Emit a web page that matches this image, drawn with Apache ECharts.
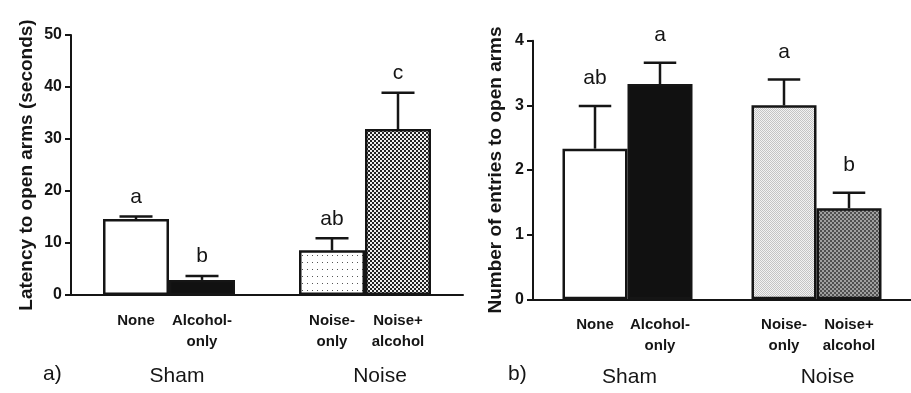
<!DOCTYPE html>
<html>
<head>
<meta charset="utf-8">
<script src="https://cdn.jsdelivr.net/npm/echarts@6/dist/echarts.min.js"></script>
<style>
html,body{margin:0;padding:0;background:#fff;}
#chart{width:911px;height:393px;}
</style>
</head>
<body>
<div id="chart"></div>
<script>
// ---- data ----
const groupNames = ['Sham', 'Noise'];
const barNames = ['None', 'Alcohol-\nonly', 'Noise-\nonly', 'Noise+\nalcohol'];
const latencyMeans = [14.6, 2.9, 8.6, 31.9];
const latencyErr = [0.5, 0.75, 2.3, 7.0];
const latencyLetters = ['a', 'b', 'ab', 'c'];
const latencyTicks = { min: 0, max: 50, interval: 10 };
const entriesMeans = [2.33, 3.33, 3.0, 1.41];
const entriesErr = [0.66, 0.33, 0.4, 0.24];
const entriesLetters = ['ab', 'a', 'a', 'b'];
const entriesTicks = { min: 0, max: 4, interval: 1 };

// ---- patterns ----
function makePattern(w, h, draw) {
  const c = document.createElement('canvas');
  c.width = w; c.height = h;
  const ctx = c.getContext('2d');
  draw(ctx);
  return { image: c, repeat: 'repeat' };
}
const patDots = makePattern(5, 7, ctx => {
  ctx.fillStyle = '#fff'; ctx.fillRect(0, 0, 5, 7);
  ctx.fillStyle = '#555'; ctx.fillRect(2, 3, 1, 1);
});
const patDarkChecker = makePattern(4, 4, ctx => {
  ctx.fillStyle = '#222'; ctx.fillRect(0, 0, 4, 4);
  ctx.fillStyle = '#eee'; ctx.fillRect(0, 0, 2, 2); ctx.fillRect(2, 2, 2, 2);
});
const patLightGray = makePattern(2, 2, ctx => {
  ctx.fillStyle = '#f2f2f2'; ctx.fillRect(0, 0, 2, 2);
  ctx.fillStyle = '#c4c4c4'; ctx.fillRect(0, 0, 1, 1); ctx.fillRect(1, 1, 1, 1);
});
const patMidGray = makePattern(4, 4, ctx => {
  ctx.fillStyle = '#505050'; ctx.fillRect(0, 0, 4, 4);
  ctx.fillStyle = '#a0a0a0'; ctx.fillRect(0, 0, 2, 2); ctx.fillRect(2, 2, 2, 2);
});

const fillsA = ['#ffffff', '#111111', patDots, patDarkChecker];
const fillsB = ['#ffffff', '#111111', patLightGray, patMidGray];

const FONT = 'Liberation Sans, Arial, sans-serif';
const INK = '#151515';
const BAR_W_A = 66, BAR_W_B = 65;

function barSeries(panel, means, fills, sub, barW) {
  const data = groupNames.map((g, gi) => {
    const i = gi * 2 + sub;
    return { value: means[i], itemStyle: { color: fills[i] }, name: barNames[i] };
  });
  return {
    type: 'bar', xAxisIndex: panel, yAxisIndex: panel,
    barWidth: barW, barGap: '0%',
    data: data,
    itemStyle: { borderColor: INK, borderWidth: 2.5 },
    label: {
      show: true, position: 'bottom', distance: 15,
      formatter: p => barNames[p.dataIndex * 2 + sub],
      fontFamily: FONT, fontWeight: 'bold', fontSize: 15, color: INK,
      lineHeight: 21, align: 'center'
    },
    emphasis: { disabled: true },
    silent: true, z: 2
  };
}

function errSeries(panel, means, errs, letters, barW, gap) {
  const data = means.map((m, i) => [Math.floor(i / 2), m, errs[i], (i % 2) ? 1 : -1, i]);
  return {
    type: 'custom', xAxisIndex: panel, yAxisIndex: panel,
    data: data, clip: false, silent: true, z: 5,
    renderItem: (params, api) => {
      const gi = api.value(0), m = api.value(1), e = api.value(2), side = api.value(3);
      const idx = api.value(4);
      const base = api.coord([gi, m]);
      const top = api.coord([gi, m + e]);
      const x = base[0] + side * barW / 2;
      const capHalf = barW / 4;
      return {
        type: 'group',
        children: [
          { type: 'line', shape: { x1: x, y1: base[1], x2: x, y2: top[1] },
            style: { stroke: INK, lineWidth: 2.5 } },
          { type: 'line', shape: { x1: x - capHalf, y1: top[1], x2: x + capHalf, y2: top[1] },
            style: { stroke: INK, lineWidth: 2.5 } },
          { type: 'text', x: x, y: top[1] - gap,
            style: { text: letters[idx], fontFamily: FONT, fontSize: 21, fill: INK,
                     align: 'center', verticalAlign: 'bottom' } }
        ]
      };
    }
  };
}

function yAxisCfg(panel, ticks, name, gap) {
  return {
    type: 'value', gridIndex: panel,
    min: ticks.min, max: ticks.max, interval: ticks.interval,
    name: name, nameLocation: 'middle', nameGap: gap,
    nameTextStyle: { fontFamily: FONT, fontWeight: 'bold', fontSize: 19, color: INK },
    axisLine: { show: true, lineStyle: { color: INK, width: 2 } },
    axisTick: { show: true, length: 6, lineStyle: { color: INK, width: 2 } },
    splitLine: { show: false },
    axisLabel: { fontFamily: FONT, fontWeight: 'bold', fontSize: 16, color: INK, margin: 9 }
  };
}

function xAxisCfg(panel, margin, pads) {
  return {
    type: 'category', gridIndex: panel, data: groupNames,
    axisLine: { show: true, lineStyle: { color: INK, width: 2 } },
    axisTick: { show: false },
    axisLabel: {
      margin: margin, interval: 0,
      formatter: (v, i) => '{g' + i + '|' + v + '}',
      rich: {
        g0: { fontFamily: FONT, fontSize: 21, color: INK, padding: [0, 0, 0, pads[0]] },
        g1: { fontFamily: FONT, fontSize: 21, color: INK, padding: [0, 0, 0, pads[1]] }
      }
    }
  };
}

const chart = echarts.init(document.getElementById('chart'));
chart.setOption({
  animation: false,
  backgroundColor: '#fff',
  grid: [
    { left: 71, width: 392, top: 35, height: 260 },
    { left: 533, width: 388, top: 40.7, height: 258.6 }
  ],
  xAxis: [xAxisCfg(0, 71, [16, 30]), xAxisCfg(1, 67, [4, 22])],
  yAxis: [
    yAxisCfg(0, latencyTicks, 'Latency to open arms (seconds)', 35),
    yAxisCfg(1, entriesTicks, 'Number of entries to open arms', 28)
  ],
  graphic: [
    { type: 'text', left: 43, top: 364, style: { text: 'a)', fontFamily: FONT, fontSize: 21, fill: INK } },
    { type: 'text', left: 508, top: 364, style: { text: 'b)', fontFamily: FONT, fontSize: 21, fill: INK } }
  ],
  series: [
    barSeries(0, latencyMeans, fillsA, 0, BAR_W_A),
    barSeries(0, latencyMeans, fillsA, 1, BAR_W_A),
    errSeries(0, latencyMeans, latencyErr, latencyLetters, BAR_W_A, 9),
    barSeries(1, entriesMeans, fillsB, 0, BAR_W_B),
    barSeries(1, entriesMeans, fillsB, 1, BAR_W_B),
    errSeries(1, entriesMeans, entriesErr, entriesLetters, BAR_W_B, 17)
  ]
});
</script>
</body>
</html>
